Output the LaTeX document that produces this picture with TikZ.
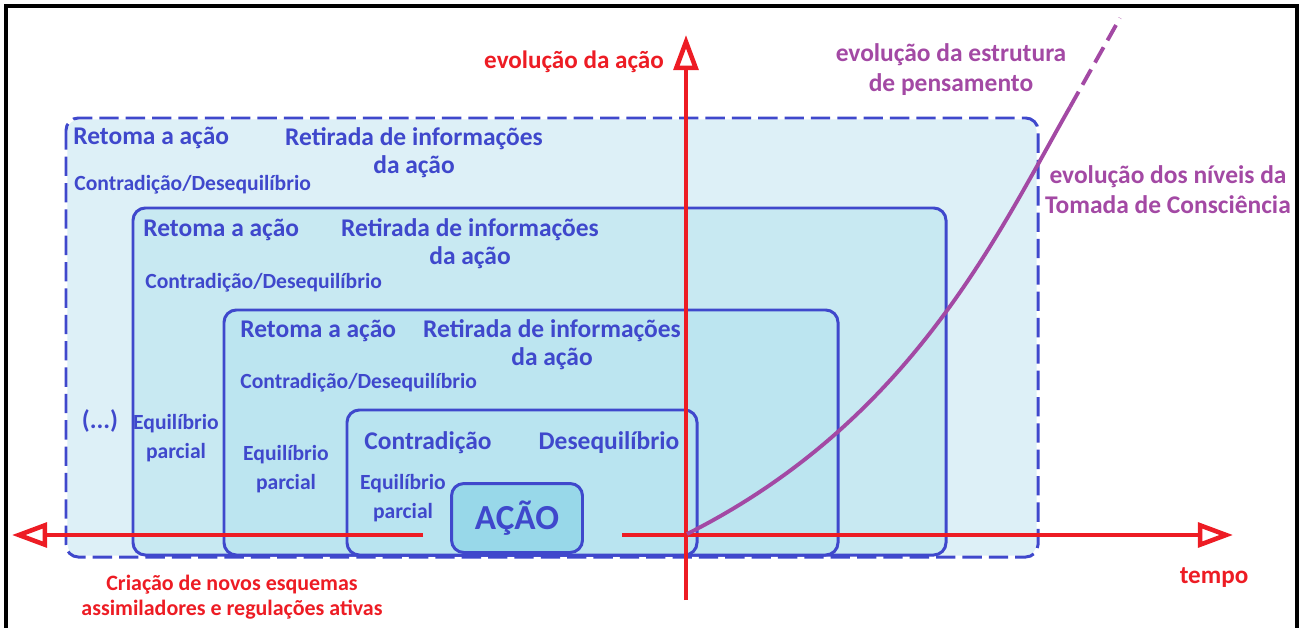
\documentclass[tikz,border=0pt]{standalone}
\usepackage{fontspec}
\setmainfont{Carlito}
\usepackage{tikz}
\usetikzlibrary{positioning,arrows.meta}
\definecolor{stageblue}{RGB}{63,72,204}
\definecolor{axisred}{RGB}{237,28,36}
\definecolor{thoughtpurple}{RGB}{163,73,164}
\definecolor{levelone}{RGB}{221,240,247}
\definecolor{leveltwo}{RGB}{200,233,242}
\definecolor{levelthree}{RGB}{188,229,240}
\definecolor{levelfour}{RGB}{185,228,240}
\definecolor{actionfill}{RGB}{152,216,233}
\tikzset{
  stage/.style={draw=stageblue,line width=1.7pt,rounded corners=7pt},
  outerstage/.style={stage,dash pattern=on 11pt off 4pt},
  actionbox/.style={stage,fill=actionfill,minimum width=2.62cm,minimum height=1.38cm,text=stageblue,font=\bfseries\fontsize{20}{22}\selectfont},
  bigtxt/.style={text=stageblue,font=\bfseries\fontsize{14.5}{16}\selectfont,align=center,inner sep=0pt},
  smalltxt/.style={text=stageblue,font=\bfseries\fontsize{12.3}{15}\selectfont,align=center,inner sep=0pt},
  eqtxt/.style={text=stageblue,font=\bfseries\fontsize{12.3}{16.5}\selectfont,align=center,inner sep=0pt},
  axis/.style={draw=axisred,line width=2.6pt,-{Triangle[length=20pt,width=14pt,fill=white]}},
  axistxt/.style={text=axisred,font=\bfseries\fontsize{14.3}{16}\selectfont,align=center,inner sep=0pt},
  axissmall/.style={text=axisred,font=\bfseries\fontsize{12.5}{14.2}\selectfont,align=center,inner sep=0pt},
  thought/.style={draw=thoughtpurple,line width=2.2pt},
  thoughttxt/.style={text=thoughtpurple,font=\bfseries\fontsize{14.5}{17}\selectfont,align=center,inner sep=0pt}
}
\begin{document}
\begin{tikzpicture}[x=0.02cm,y=-0.02cm]
  \useasboundingbox (0,0) rectangle (1300,628);
  \draw[black,line width=2.3pt] (6,640) -- (6,6) -- (1297,6) -- (1297,640);

  % nested levels
  \path[stage,draw=white,fill=levelone] (66,118) rectangle (1038,557);
  \path[outerstage] (66,118) rectangle (1038,557);
  \path[stage,fill=leveltwo] (133,208) rectangle (946,555);
  \path[stage,fill=levelthree] (224,310) rectangle (838,555);
  \path[stage,fill=levelfour] (347,410) rectangle (697,555);
  \node[actionbox] (acao) at (517,518) {AÇÃO};

  % outer level
  \node[bigtxt,anchor=west] (retoma1) at (73,138) {Retoma a ação};
  \node[bigtxt] (retirada1) at (414,153) {Retirada de informações\\da ação};
  \node[smalltxt,anchor=west] (contra1) at (74,185) {Contradição/Desequilíbrio};
  \node[bigtxt] (etc) at (100,421) {(...)};

  % second level
  \node[bigtxt,anchor=west] (retoma2) at (143,230) {Retoma a ação};
  \node[bigtxt] (retirada2) at (470,244) {Retirada de informações\\da ação};
  \node[smalltxt,anchor=west] (contra2) at (145,283) {Contradição/Desequilíbrio};
  \node[eqtxt] (equil2) at (176,438) {Equilíbrio\\parcial};

  % third level
  \node[bigtxt,anchor=west] (retoma3) at (240,331) {Retoma a ação};
  \node[bigtxt] (retirada3) at (552,345) {Retirada de informações\\da ação};
  \node[smalltxt,anchor=west] (contra3) at (240,383) {Contradição/Desequilíbrio};
  \node[eqtxt] (equil3) at (286,469) {Equilíbrio\\parcial};

  % fourth level
  \node[bigtxt] (contra4) at (428,443) {Contradição};
  \node[bigtxt] (deseq4) at (609,443) {Desequilíbrio};
  \node[eqtxt] (equil4) at (403,498) {Equilíbrio\\parcial};

  % axes
  \coordinate (origin) at (687,534);
  \coordinate (ytop) at (686,35);
  \coordinate (ybot) at (686,600);
  \coordinate (xleft) at (12,535);
  \coordinate (lstart) at (423,535);
  \coordinate (rstart) at (622,535);
  \coordinate (xright) at (1233,535);
  \draw[axis] (ybot) -- (ytop);
  \draw[axis] (lstart) -- (xleft);
  \draw[axis] (rstart) -- (xright);
  \node[axistxt] (acaolbl) at (574,62) {evolução da ação};
  \node[axistxt] (tempolbl) at (1214,578) {tempo};
  \node[axissmall] (novoslbl) at (232,597) {Criação de novos esquemas\\assimiladores e regulações ativas};

  % thought curve
  \coordinate (solidend) at (1070,107);
  \coordinate (dashend) at (1120,18);
  \draw[thought] (origin) .. controls (911,421) and (996,237) .. (solidend);
  \draw[thought,dash pattern=on 10pt off 4.5pt] (solidend) -- (dashend);
  \node[thoughttxt] (estrutura) at (951,70) {evolução da estrutura\\de pensamento};
  \node[thoughttxt] (niveis) at (1168,190) {evolução dos níveis da\\Tomada de Consciência};
\end{tikzpicture}
\end{document}
